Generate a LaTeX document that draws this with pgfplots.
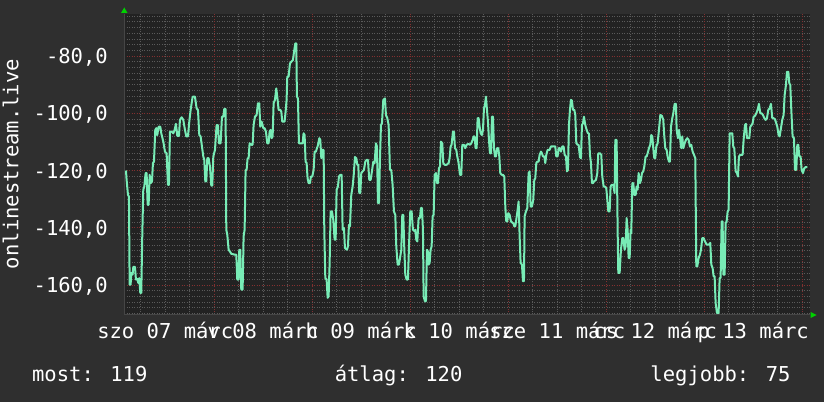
\documentclass[border=0pt]{standalone}
\usepackage{fontspec}
\setmainfont{DejaVu Sans Mono}
\usepackage{pgfplots}
\pgfplotsset{compat=1.18}
\definecolor{bgc}{RGB}{47,47,47}
\definecolor{canv}{RGB}{34,34,34}
\definecolor{linec}{RGB}{120,236,182}
\definecolor{minorg}{RGB}{90,90,90}
\definecolor{majorg}{RGB}{130,48,48}
\definecolor{axc}{RGB}{70,70,70}
\definecolor{arrowc}{RGB}{0,210,0}
\newcommand{\bigmono}{\fontsize{20.6}{24}\selectfont}
\begin{document}
\begin{tikzpicture}
\fill[bgc] (0,0) rectangle (824bp,402bp);
\begin{axis}[
  at={(124bp,87bp)}, anchor=south west,
  scale only axis, width=686bp, height=301bp,
  xmin=-22.1, xmax=145.9, ymin=-170.5, ymax=-65.3,
  axis background/.style={fill=canv},
  axis line style={draw=none},
  tick style={draw=none},
  xtick={-12,12,36,60,84,108,132},
  xticklabels={szo 07 márc, v 08 márc, h 09 márc, k 10 márc, sze 11 márc, cs 12 márc, p 13 márc},
  minor xtick={-18,-12,-6,6,12,18,30,36,42,54,60,66,78,84,90,102,108,114,126,132,138},
  xminorgrids,
  extra x ticks={0,24,48,72,96,120,144},
  extra x tick labels={},
  extra x tick style={grid=major},
  ytick={-160,-140,-120,-100,-80},
  yticklabels={{-160,0},{-140,0},{-120,0},{-100,0},{-80,0}},
  minor ytick={-170,-168,...,-66},
  ymajorgrids, yminorgrids,
  major grid style={majorg, line width=0.7bp, dash pattern=on 1bp off 1.5bp},
  minor grid style={minorg, line width=0.7bp, dash pattern=on 1bp off 1.5bp},
  tick label style={font=\bigmono, text=white, inner sep=0pt},
  xticklabel style={anchor=base, yshift=-23.7bp},
  yticklabel style={anchor=base east, xshift=-16bp, yshift=-7.5bp},
]
\draw[axc, line width=1bp] (rel axis cs:0,0) -- (rel axis cs:1,0);
\draw[axc, line width=1bp] (rel axis cs:0,0) -- (rel axis cs:0,1);
\addplot[linec, line width=2bp, line join=round] table {
-21.62 -120.0
-21.46 -123.3
-21.13 -128.5
-20.89 -129.1
-20.72 -159.9
-20.48 -159.9
-20.31 -155.8
-19.99 -156.4
-19.82 -153.7
-19.42 -153.7
-19.17 -158.1
-18.85 -157.9
-18.60 -159.3
-18.36 -157.6
-18.11 -162.8
-17.87 -162.8
-17.62 -142.4
-17.38 -126.7
-17.13 -125.6
-16.80 -120.9
-16.56 -120.9
-16.31 -132.0
-16.07 -132.0
-15.82 -121.5
-15.58 -124.4
-15.25 -123.8
-15.01 -117.4
-14.76 -116.9
-14.44 -105.8
-14.19 -105.2
-13.95 -107.6
-13.62 -104.7
-13.21 -104.7
-12.97 -107.0
-12.48 -109.9
-12.07 -113.4
-11.66 -114.0
-11.34 -125.0
-11.09 -125.0
-10.85 -106.4
-10.44 -106.4
-10.03 -107.0
-9.70 -105.8
-9.38 -103.7
-9.05 -107.9
-8.64 -107.9
-8.40 -102.3
-7.99 -101.4
-7.58 -102.3
-7.17 -105.8
-6.85 -108.1
-6.44 -108.1
-6.11 -102.9
-5.78 -98.8
-5.29 -94.2
-4.72 -94.2
-4.32 -98.3
-3.99 -98.8
-3.66 -107.6
-3.34 -108.1
-3.01 -111.6
-2.68 -115.1
-2.44 -116.3
-2.19 -123.8
-1.95 -123.8
-1.70 -115.7
-1.38 -115.7
-1.05 -118.6
-0.72 -125.3
-0.48 -125.3
-0.23 -115.1
0.18 -112.8
0.58 -104.1
0.91 -104.1
1.15 -110.5
1.56 -110.5
1.89 -101.2
2.21 -101.2
2.46 -98.5
2.78 -98.5
2.95 -140.7
3.19 -142.4
3.52 -147.7
3.84 -148.3
4.17 -149.1
4.99 -149.4
5.40 -149.4
5.64 -158.1
5.97 -158.1
6.13 -147.7
6.38 -147.7
6.62 -161.6
6.95 -161.6
7.19 -143.0
7.44 -140.7
7.68 -119.8
7.93 -119.8
8.17 -115.7
8.42 -115.7
8.66 -110.5
9.07 -111.0
9.40 -111.0
9.64 -104.1
9.97 -101.2
10.38 -100.6
10.70 -96.5
11.03 -96.5
11.27 -104.7
11.60 -102.9
12.01 -105.2
12.33 -105.2
12.66 -106.4
12.99 -110.5
13.31 -110.5
13.56 -106.4
13.80 -105.8
14.05 -108.7
14.30 -108.1
14.54 -96.5
14.87 -95.3
15.19 -91.3
15.52 -95.3
15.76 -98.8
16.17 -98.8
16.42 -99.4
16.66 -102.9
17.23 -102.9
17.48 -99.4
17.72 -95.3
17.89 -87.2
18.21 -87.2
18.54 -82.6
18.87 -82.0
19.27 -81.4
19.60 -77.9
19.85 -75.6
20.09 -75.6
20.25 -94.2
20.50 -94.8
20.74 -110.5
21.64 -110.5
21.88 -107.0
22.13 -107.6
22.37 -116.9
22.62 -117.4
22.86 -122.7
23.11 -124.4
23.44 -124.4
23.68 -122.1
24.01 -122.1
24.34 -119.8
24.58 -113.4
24.91 -113.4
25.15 -112.2
25.32 -111.6
25.73 -108.7
25.97 -109.3
26.22 -115.7
26.46 -112.8
26.79 -112.8
26.95 -140.7
27.20 -157.6
27.52 -158.1
27.77 -164.5
28.01 -164.0
28.26 -152.3
28.50 -134.3
28.83 -134.3
29.15 -137.2
29.48 -144.2
29.73 -144.2
29.97 -126.7
30.30 -125.6
30.54 -122.1
30.87 -121.5
31.20 -121.5
31.44 -140.7
31.77 -140.1
32.01 -147.1
32.50 -147.7
32.75 -146.5
32.99 -139.0
33.24 -139.5
33.56 -128.5
33.89 -125.6
34.13 -122.1
34.46 -115.3
34.79 -115.7
35.03 -118.0
35.28 -118.0
35.52 -127.9
35.77 -127.9
36.01 -120.9
36.34 -120.3
36.66 -119.8
36.99 -116.9
37.32 -116.3
37.64 -116.3
37.97 -123.3
38.30 -123.3
38.62 -120.3
38.95 -116.9
39.28 -117.4
39.60 -110.5
39.85 -111.6
40.09 -131.4
40.34 -131.4
40.58 -116.3
40.83 -104.1
41.07 -103.5
41.40 -95.3
41.81 -94.8
42.05 -100.6
42.38 -101.7
42.71 -104.1
43.03 -119.8
43.36 -119.8
43.68 -125.0
44.01 -134.3
44.34 -135.5
44.58 -146.5
44.91 -152.9
45.24 -152.9
45.56 -150.0
45.81 -147.7
46.05 -135.5
46.30 -135.5
46.54 -147.1
46.79 -156.4
47.11 -158.1
47.44 -158.1
47.69 -146.5
48.01 -134.3
48.34 -134.3
48.66 -140.7
49.15 -141.3
49.24 -140.7
49.48 -144.2
49.73 -144.8
50.05 -136.6
50.38 -136.6
50.62 -133.1
50.87 -133.1
51.11 -140.7
51.28 -164.0
51.60 -165.7
51.85 -165.7
52.09 -147.7
52.34 -148.3
52.50 -152.9
52.75 -152.3
52.99 -147.7
53.24 -146.5
53.48 -136.0
53.73 -135.5
53.97 -121.5
54.30 -120.9
54.54 -124.4
54.79 -124.4
55.03 -119.2
55.28 -118.6
55.52 -109.9
55.85 -110.5
56.09 -117.4
56.42 -118.0
56.91 -118.0
57.40 -117.4
57.64 -115.7
57.89 -111.6
58.13 -111.0
58.46 -106.4
58.71 -106.4
58.95 -112.2
59.28 -112.8
59.52 -115.1
59.85 -117.4
60.17 -121.5
60.50 -121.5
60.75 -111.0
61.15 -111.0
61.48 -112.2
61.81 -111.0
62.22 -110.7
62.62 -111.0
62.95 -110.5
63.28 -109.3
63.52 -108.1
63.77 -108.1
64.01 -112.2
64.26 -112.2
64.50 -101.7
64.75 -101.7
64.99 -104.7
65.24 -107.0
65.56 -107.6
65.81 -105.8
66.05 -98.3
66.30 -97.1
66.54 -94.2
66.79 -98.8
67.03 -102.9
67.28 -109.3
67.52 -114.0
67.77 -114.0
68.01 -101.2
68.26 -101.2
68.50 -112.2
68.75 -115.1
68.99 -115.1
69.24 -112.2
69.56 -112.2
69.81 -115.1
70.05 -120.9
70.38 -121.5
70.71 -121.5
71.03 -122.1
71.28 -132.6
71.52 -137.8
71.77 -137.8
72.01 -134.9
72.34 -135.5
72.66 -137.8
73.15 -138.4
73.24 -138.4
73.48 -139.5
73.73 -139.5
73.97 -137.2
74.30 -133.7
74.54 -130.8
74.79 -143.0
75.03 -152.3
75.36 -152.9
75.60 -158.7
75.85 -158.7
76.01 -136.0
76.34 -134.3
76.67 -133.1
76.99 -120.9
77.24 -120.3
77.48 -132.6
77.81 -132.6
78.13 -130.2
78.38 -123.3
78.62 -122.7
78.87 -117.4
79.11 -116.9
79.44 -116.9
79.69 -114.5
80.01 -113.4
80.26 -114.0
80.50 -115.1
80.83 -115.1
81.07 -117.4
81.32 -114.5
81.64 -112.8
82.13 -112.8
82.46 -111.6
83.52 -111.6
83.77 -115.1
84.09 -115.1
84.34 -112.2
84.66 -112.2
84.91 -113.4
85.24 -111.6
85.56 -111.6
85.81 -114.5
86.13 -115.1
86.38 -120.3
86.62 -119.8
86.87 -104.1
87.11 -98.8
87.36 -95.3
87.60 -95.6
87.85 -98.8
88.18 -98.8
88.42 -100.6
88.67 -110.5
88.99 -111.0
89.24 -111.0
89.56 -115.3
89.81 -115.7
90.05 -104.1
90.30 -103.5
90.54 -101.2
90.87 -104.1
91.20 -105.8
91.52 -107.0
91.77 -107.0
92.01 -114.5
92.26 -117.4
92.50 -124.4
92.75 -124.4
92.99 -123.8
93.48 -123.3
93.81 -120.9
94.05 -114.0
94.46 -114.0
94.79 -114.5
95.03 -122.1
95.36 -125.6
95.69 -125.6
96.01 -126.2
96.26 -130.2
96.50 -134.3
96.83 -134.3
97.07 -125.6
97.32 -125.0
97.40 -125.0
97.73 -125.0
98.05 -127.9
98.22 -109.3
98.54 -109.3
98.79 -140.7
98.95 -155.8
99.28 -155.8
99.60 -147.7
99.93 -143.6
100.18 -143.6
100.50 -147.7
100.75 -146.5
100.99 -136.6
101.24 -140.7
101.48 -150.6
101.73 -150.6
101.97 -140.7
102.13 -141.9
102.38 -124.4
102.62 -124.4
102.87 -128.5
103.20 -128.5
103.44 -125.6
103.69 -126.7
103.93 -120.9
104.26 -124.4
104.50 -123.3
104.75 -120.9
105.07 -120.3
105.32 -118.6
105.64 -115.1
105.89 -115.1
106.13 -114.0
106.46 -112.2
106.79 -111.0
107.03 -107.6
107.28 -108.1
107.52 -112.2
107.77 -115.7
108.01 -115.7
108.26 -111.6
108.58 -110.5
108.91 -105.8
109.24 -100.6
109.64 -100.9
109.97 -102.3
110.22 -108.1
110.46 -112.2
110.79 -112.8
111.03 -115.1
111.36 -116.9
111.60 -116.9
111.85 -104.7
112.18 -101.7
112.42 -100.0
112.75 -96.7
113.07 -96.7
113.24 -105.8
113.56 -108.7
113.81 -105.8
114.13 -109.3
114.38 -112.2
114.62 -108.1
114.87 -112.2
115.20 -110.5
115.52 -109.3
115.85 -108.7
116.18 -109.3
116.50 -111.6
116.83 -111.0
117.15 -113.4
117.48 -114.5
117.81 -115.7
118.05 -153.5
118.30 -153.5
118.62 -150.6
118.95 -149.4
119.20 -147.7
119.52 -143.6
119.85 -143.6
120.18 -144.8
120.58 -145.9
121.15 -145.9
121.48 -145.3
121.73 -152.9
122.05 -154.1
122.30 -157.0
122.54 -157.0
122.79 -166.3
123.11 -169.8
123.52 -169.8
123.77 -157.6
124.01 -157.6
124.26 -137.8
124.50 -137.8
124.67 -156.4
124.99 -156.4
125.24 -138.4
125.48 -137.8
125.73 -134.3
125.97 -133.7
126.22 -107.0
126.87 -107.0
127.11 -111.6
127.36 -112.2
127.69 -120.3
128.01 -120.9
128.26 -122.1
128.50 -115.1
128.83 -114.5
129.40 -114.5
129.64 -109.3
129.97 -104.1
130.22 -103.7
130.46 -108.7
131.03 -108.7
131.28 -104.7
131.60 -104.1
131.85 -103.5
132.09 -101.2
132.42 -100.9
132.75 -100.0
133.07 -98.8
133.40 -96.7
133.73 -100.0
134.05 -100.0
134.38 -100.6
134.71 -101.7
135.03 -102.3
135.36 -101.7
135.69 -98.8
136.01 -98.3
136.34 -96.7
136.66 -101.7
136.99 -101.7
137.32 -102.1
137.64 -103.5
137.89 -104.7
138.21 -107.6
138.46 -108.1
138.79 -105.2
139.11 -102.3
139.44 -100.6
139.69 -93.6
140.01 -90.1
140.26 -85.5
140.58 -85.5
140.83 -89.5
141.07 -90.1
141.32 -98.8
141.64 -108.1
141.97 -108.7
142.22 -119.8
142.54 -119.8
142.79 -111.0
143.03 -111.0
143.28 -115.1
143.60 -115.1
143.85 -119.8
144.18 -120.9
144.50 -119.2
144.83 -118.8
145.24 -118.8
};
\end{axis}
\fill[arrowc] (121bp,389bp) -- (127.5bp,389bp) -- (124.25bp,394.5bp) -- cycle;
\fill[arrowc] (810.5bp,84bp) -- (810.5bp,90bp) -- (816.5bp,87bp) -- cycle;
\node[rotate=90, anchor=base, text=white, font=\bigmono, inner sep=0pt] at (18.3bp,238bp) {onlinestream.live};
\node[anchor=base, text=white, font=\bigmono, inner sep=0pt] at (89.8bp,21bp) {most: 119};
\node[anchor=base, text=white, font=\bigmono, inner sep=0pt] at (398.6bp,21bp) {átlag: 120};
\node[anchor=base, text=white, font=\bigmono, inner sep=0pt] at (720.5bp,21bp) {legjobb: 75};
\pgfresetboundingbox
\path (0,0) rectangle (824bp,402bp);
\end{tikzpicture}
\end{document}
